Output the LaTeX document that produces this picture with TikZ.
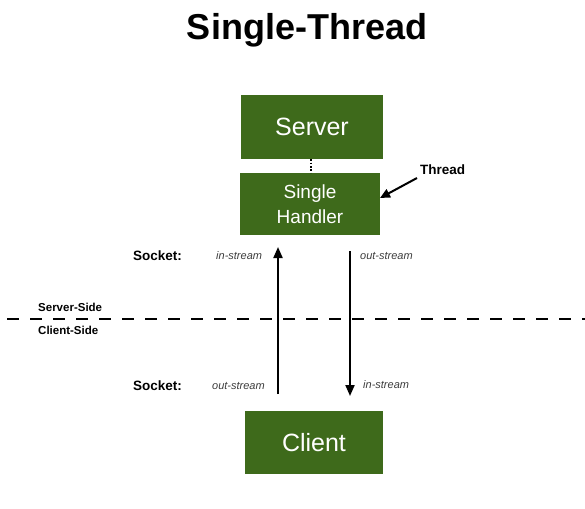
\documentclass[tikz,border=0pt]{standalone}
\usepackage{fontspec}
\setmainfont{Liberation Sans}
\usetikzlibrary{arrows.meta,calc}
\definecolor{boxgreen}{RGB}{62,106,27}
\definecolor{streamgray}{RGB}{60,60,60}

\begin{document}
\begin{tikzpicture}[x=1pt, y=-1pt,
    srvbox/.style={
        fill=boxgreen,
        text=white,
        inner sep=0pt,
        align=center
    },
    sockarrow/.style={
        black,
        line width=2pt,
        -{Triangle[length=11pt,width=9pt]}
    },
    socklabel/.style={
        font=\fontsize{13.5}{16}\selectfont\bfseries,
        anchor=base west,
        inner sep=0pt
    },
    streamlabel/.style={
        font=\fontsize{11}{13}\selectfont\itshape,
        text=streamgray,
        anchor=base west,
        inner sep=0pt
    },
    sidelabel/.style={
        font=\fontsize{11.5}{13}\selectfont\bfseries,
        anchor=base west,
        inner sep=0pt
    }
]
\path[use as bounding box] (0,0) rectangle (585,508);

\node[
    font=\fontsize{36}{40}\selectfont\bfseries,
    anchor=base,
    inner sep=0pt
]
(title) at (307,40)
{Single-Thread};

\node[srvbox,
    minimum width=142pt,
    minimum height=64pt,
    font=\fontsize{25}{28}\selectfont
]
(server) at (312,127)
{Server};

\node[srvbox,
    minimum width=140pt,
    minimum height=62pt,
    font=\fontsize{19}{25}\selectfont
]
(handler) at (310,204)
{Single\\Handler};

\node[srvbox,
    minimum width=138pt,
    minimum height=63pt,
    font=\fontsize{25}{28}\selectfont
]
(client) at (314,442.5)
{Client};

\draw[
    line width=1.8pt,
    dash pattern=on 1.8pt off 1.6pt
]
(server.south -| 311,0) -- (handler.north -| 311,0);

\node[socklabel] (thread) at (420,174) {Thread};
\coordinate (threadtip) at (380,198);
\draw[
    line width=2pt,
    -{Triangle[length=10pt,width=9pt]}
]
(417,178) -- (threadtip);

\coordinate (inS) at (278,247);
\coordinate (outC) at (278,394);
\coordinate (outS) at (350,251);
\coordinate (inC) at (350,396);

\draw[sockarrow] (outC) -- (inS);
\draw[sockarrow] (outS) -- (inC);

\node[socklabel] (socktop) at (133,260) {Socket:};
\node[streamlabel] (instop) at (216,259) {in-stream};
\node[streamlabel] (outstop) at (360,259) {out-stream};

\node[socklabel] (sockbot) at (133,390) {Socket:};
\node[streamlabel] (outsbot) at (212,389) {out-stream};
\node[streamlabel] (insbot) at (363,388) {in-stream};

\coordinate (divL) at (7,319);
\coordinate (divR) at (585,319);
\draw[
    line width=2.2pt,
    dash pattern=on 12pt off 11pt
]
(divL) -- (divR);

\node[sidelabel] (srvside) at (38,311) {Server-Side};
\node[sidelabel] (cltside) at (38,334) {Client-Side};
\end{tikzpicture}
\end{document}
